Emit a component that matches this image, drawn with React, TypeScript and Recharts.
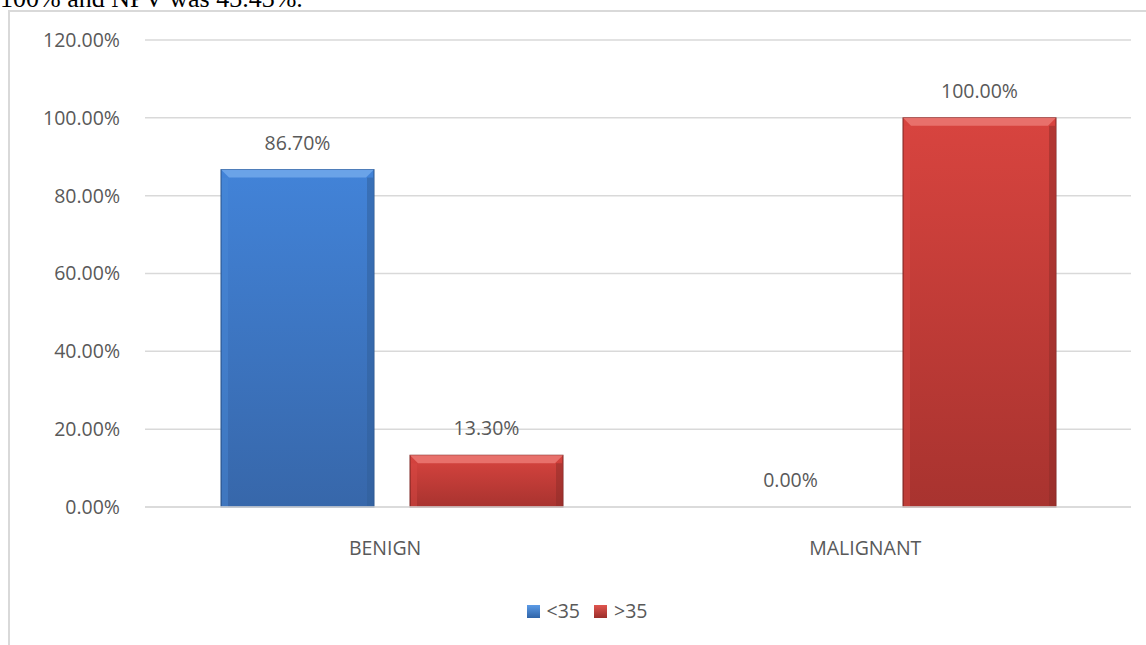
import { BarChart, Bar, XAxis, YAxis, CartesianGrid, LabelList } from "recharts";

const categories = ["BENIGN", "MALIGNANT"];
const under35 = [0.867, 0.0];
const over35 = [0.133, 1.0];
const yTicks = [0, 0.2, 0.4, 0.6, 0.8, 1.0, 1.2];
const seriesNames = ["<35", ">35"];

const data = categories.map((c, i) => ({ name: c, a: under35[i], b: over35[i] }));

const FONT = "'Open Sans', sans-serif";
const TEXT = "#595959";
const FS = 19.5;
const pct = (v: number) => `${(v * 100).toFixed(2)}%`;

function BevelBar(props: any) {
  const { x, y, width, height, tone } = props;
  if (!height || height <= 0) return null;
  const b = Math.min(8, height / 2);
  const c = tone === "blue"
    ? { top: "#6fa6ea", edgeL: "#4a8ad8", edgeR: "#2f5d98", stroke: "#2b548a", id: "gBlue" }
    : { top: "#ea7670", edgeL: "#d94a45", edgeR: "#8e2c28", stroke: "#7f2724", id: "gRed" };
  return (
    <g>
      <rect x={x} y={y} width={width} height={height} fill={`url(#${c.id})`} stroke={c.stroke} strokeWidth={1} />
      <rect x={x + 1} y={y + b} width={6} height={height - b} fill={c.edgeL} opacity={0.45} />
      <rect x={x + width - 7} y={y + b} width={6} height={height - b} fill={c.edgeR} opacity={0.5} />
      <polygon points={`${x},${y} ${x + width},${y} ${x + width - b},${y + b} ${x + b},${y + b}`} fill={c.top} opacity={0.9} />
    </g>
  );
}

// category labels sit a bit left of the band centres in the original
function XTick(props: any) {
  const { x, y, payload } = props;
  const lx = 145 + (x - 145) * 0.974;
  return (
    <text x={lx} y={y + 40} textAnchor="middle" fill={TEXT} fontSize={FS} fontFamily={FONT}>
      {payload.value}
    </text>
  );
}

export default function App() {
  return (
    <div style={{ position: "fixed", left: 0, top: 0, width: 1146, height: 645, overflow: "hidden", background: "#fff" }}>
      <div style={{ position: "absolute", left: 0, top: -16, fontFamily: "'Liberation Serif', serif", fontSize: 26, color: "#000", whiteSpace: "nowrap" }}>
        100% and NPV was 43.43%.
      </div>
      <div style={{ position: "absolute", left: 8, top: 10, width: 1200, height: 700, borderLeft: "2px solid #d9d9d9", borderTop: "2px solid #d9d9d9" }} />
      <div style={{ position: "absolute", left: 0, top: 0 }}>
        <BarChart width={1146} height={645} data={data} margin={{ top: 40, right: 15, bottom: 98, left: 0 }} barGap={36} barSize={153}>
          <defs>
            <linearGradient id="gBlue" x1="0" y1="0" x2="0" y2="1">
              <stop offset="0%" stopColor="#4283d8" />
              <stop offset="100%" stopColor="#3767aa" />
            </linearGradient>
            <linearGradient id="gRed" x1="0" y1="0" x2="0" y2="1">
              <stop offset="0%" stopColor="#d8443f" />
              <stop offset="100%" stopColor="#a8332f" />
            </linearGradient>
          </defs>
          <CartesianGrid vertical={false} stroke="#d9d9d9" strokeWidth={1.5} />
          <XAxis dataKey="name" axisLine={{ stroke: "#d9d9d9", strokeWidth: 1.5 }} tickLine={false} height={40} tick={<XTick />} />
          <YAxis
            domain={[0, 1.2]}
            ticks={yTicks}
            tickFormatter={pct}
            axisLine={false}
            tickLine={false}
            width={145}
            tickMargin={19}
            tick={{ fill: TEXT, fontSize: FS, fontFamily: FONT }}
          />
          <Bar dataKey="a" name={seriesNames[0]} isAnimationActive={false} shape={<BevelBar tone="blue" />}>
            <LabelList dataKey="a" position="top" offset={20} formatter={pct} fill={TEXT} fontSize={FS} fontFamily={FONT} />
          </Bar>
          <Bar dataKey="b" name={seriesNames[1]} isAnimationActive={false} shape={<BevelBar tone="red" />}>
            <LabelList dataKey="b" position="top" offset={20} formatter={pct} fill={TEXT} fontSize={FS} fontFamily={FONT} />
          </Bar>
        </BarChart>
      </div>
      <div style={{ position: "absolute", top: 599, left: 0, paddingLeft: 28, boxSizing: "border-box", width: 1146, display: "flex", justifyContent: "center", gap: 14, fontFamily: FONT, fontSize: FS, lineHeight: "24px", color: TEXT }}>
        {seriesNames.map((n, i) => (
          <span key={n} style={{ display: "flex", alignItems: "center", gap: 7 }}>
            <span style={{ display: "inline-block", width: 13, height: 13, background: i === 0 ? "linear-gradient(#5c9be6,#2f64a8)" : "linear-gradient(#e0554f,#9b2e2a)" }} />
            {n}
          </span>
        ))}
      </div>
    </div>
  );
}
